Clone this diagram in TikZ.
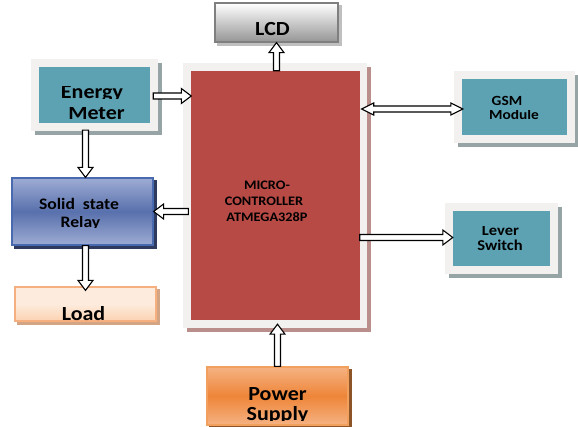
\documentclass[tikz,border=0pt]{standalone}
\usepackage{fontspec}
\setmainfont{Carlito}[FakeStretch=1.1]
\usepackage{trimclip}
\usetikzlibrary{calc,backgrounds}
\definecolor{framecol}{HTML}{F2F1EF}
\definecolor{tealcol}{HTML}{5DA2B3}
\definecolor{tealshadow}{HTML}{96A4A5}
\definecolor{mcured}{HTML}{B84A45}
\definecolor{mcushadow}{HTML}{BA8E8B}
\definecolor{lcdborder}{HTML}{7F7F7F}
\definecolor{lcdbot}{HTML}{959595}
\definecolor{lcdshadow}{HTML}{BFBFBF}
\definecolor{relaylight}{HTML}{9DACD3}
\definecolor{relaydark}{HTML}{5870AC}
\definecolor{relayborder}{HTML}{4A6AB0}
\definecolor{relayshadow}{HTML}{2E3B5E}
\definecolor{loadtop}{HTML}{FDEBDD}
\definecolor{loadbot}{HTML}{FBD2B0}
\definecolor{loadborder}{HTML}{F6B080}
\definecolor{loadshadow}{HTML}{D4A584}
\definecolor{powertop}{HTML}{F5B283}
\definecolor{powermid}{HTML}{EE8538}
\definecolor{powerborder}{HTML}{F1A05E}
\definecolor{powershadow}{HTML}{8D5428}
\newcommand\cutl[1]{\clipbox{0pt {\depth} 0pt 0pt}{#1}}
\newcommand\fsz[1]{\fontsize{#1}{#1}\selectfont\bfseries}
\newcommand\frameshadow[2]{%
  \fill[#2] ([shift={(-3.5pt,-11.5pt)}]#1.south west) rectangle ([shift={(11.5pt,3.5pt)}]#1.north east);
  \fill[framecol] ([shift={(-7.5pt,-7.5pt)}]#1.south west) rectangle ([shift={(7.5pt,7.5pt)}]#1.north east);}
\newcommand\dropshadow[2]{%
  \fill[#2] ([shift={(3pt,-3pt)}]#1.south west) rectangle ([shift={(3pt,-3pt)}]#1.north east);}
\tikzset{
  txt/.style={inner sep=0pt, anchor=base, text=black},
  tealbox/.style={fill=tealcol, inner sep=0pt},
  barrow/.style={draw=black, fill=white, line width=1.1pt, line join=miter, to path={
    let \p1=(\tikztostart), \p2=(\tikztotarget), \p3=($(\p2)!10pt!(\p1)$) in
    ($(\p1)!3pt!90:(\p2)$) -- ($(\p3)!3pt!90:(\p2)$) -- ($(\p3)!7.5pt!90:(\p2)$) -- (\p2)
    -- ($(\p3)!7.5pt!-90:(\p2)$) -- ($(\p3)!3pt!-90:(\p2)$) -- ($(\p1)!3pt!-90:(\p2)$) -- cycle}},
  dbarrow/.style={draw=black, fill=white, line width=1.1pt, line join=miter, to path={
    let \p1=(\tikztostart), \p2=(\tikztotarget), \p3=($(\p2)!12pt!(\p1)$), \p4=($(\p1)!12pt!(\p2)$) in
    (\p1) -- ($(\p4)!6pt!90:(\p2)$) -- ($(\p4)!3pt!90:(\p2)$) -- ($(\p3)!3pt!90:(\p2)$) -- ($(\p3)!6pt!90:(\p2)$) -- (\p2)
    -- ($(\p3)!6pt!-90:(\p2)$) -- ($(\p3)!3pt!-90:(\p2)$) -- ($(\p4)!3pt!-90:(\p2)$) -- ($(\p4)!6pt!-90:(\p2)$) -- cycle}},
}
\begin{document}
\begin{tikzpicture}[x=1pt,y=-1pt]
\useasboundingbox (0,0) rectangle (578,427);
% boxes
\node[minimum width=123pt, minimum height=39pt, draw=lcdborder, line width=1.2pt, top color=white, bottom color=lcdbot] (lcd) at (276.5,22.5) {};
\node[tealbox, minimum width=111pt, minimum height=56pt] (em) at (94.5,95) {};
\node[fill=mcured, inner sep=0pt, minimum width=169pt, minimum height=249pt] (mcu) at (275,195.5) {};
\node[tealbox, minimum width=105pt, minimum height=56pt] (gsm) at (514.5,107) {};
\node[minimum width=141pt, minimum height=67pt, draw=relayborder, line width=1.3pt, top color=relaylight, bottom color=relaylight, middle color=relaydark] (relay) at (82.5,211.5) {};
\node[minimum width=141pt, minimum height=34pt, draw=loadborder, line width=1.3pt, top color=loadtop, bottom color=loadbot, middle color=loadtop] (load) at (85.5,304) {};
\node[minimum width=141pt, minimum height=58pt, draw=powerborder, line width=1.3pt, top color=powertop, bottom color=powertop, middle color=powermid] (power) at (277.5,396) {};
\node[tealbox, minimum width=97pt, minimum height=55pt] (lever) at (501.5,238.5) {};
% frames and shadows
\begin{scope}[on background layer]
  \frameshadow{em}{tealshadow}
  \frameshadow{mcu}{mcushadow}
  \frameshadow{gsm}{tealshadow}
  \frameshadow{lever}{tealshadow}
  \dropshadow{lcd}{lcdshadow}
  \dropshadow{relay}{relayshadow}
  \dropshadow{load}{loadshadow}
  \dropshadow{power}{powershadow}
\end{scope}
% texts
\node[txt, font=\fsz{20}] (lcdt) at (272.5,36) {LCD};
\node[txt, font=\fsz{20}] (em1) at (92,99) {\cutl{Energy}};
\node[txt, font=\fsz{20}] (em2) at (96.5,120) {\cutl{Meter}};
\node[txt, font=\fsz{13}] (mc1) at (267,190) {MICRO-};
\node[txt, font=\fsz{13}] (mc2) at (264,206) {CONTROLLER};
\node[txt, font=\fsz{13}] (mc3) at (267,222) {ATMEGA328P};
\node[txt, font=\fsz{14}] (gs1) at (507,106) {GSM};
\node[txt, font=\fsz{14}] (gs2) at (514,120) {\cutl{Module}};
\node[txt, font=\fsz{16}] (re1) at (79,210) {Solid\ \ state};
\node[txt, font=\fsz{16}] (re2) at (80.5,228) {\cutl{Relay}};
\node[txt, font=\fsz{20}] (lo1) at (83.5,321) {\cutl{Load}};
\node[txt, font=\fsz{20}] (po1) at (277.5,400) {Power};
\node[txt, font=\fsz{20}] (po2) at (277.5,420) {\cutl{Supply}};
\node[txt, font=\fsz{15}] (lv1) at (500.5,236) {\cutl{Lever}};
\node[txt, font=\fsz{15}] (lv2) at (500,251) {Switch};
% connectors
\draw[barrow] ($(em.east)+(3,1)$) to ($(em.east -| mcu.west)+(1,1)$);
\draw[barrow] (lcd.south |- mcu.north) to (lcd.south);
\draw[dbarrow] ($(mcu.east |- gsm.west)+(2,2)$) to ($(gsm.west)+(1,2)$);
\draw[barrow] ($(relay.east -| mcu.west)+(-2,0)$) to (relay.east);
\draw[barrow] ($(lever.west -| mcu.east)+(0,-1)$) to ($(lever.west)+(0,-1)$);
\draw[barrow] ($(em.south -| load.north)+(0,7)$) to (relay.north -| load.north);
\draw[barrow] (relay.south -| load.north) to ($(load.north)+(0,4)$);
\draw[barrow] (power.north) to ($(power.north |- mcu.south)+(0,4)$);
\end{tikzpicture}
\end{document}
